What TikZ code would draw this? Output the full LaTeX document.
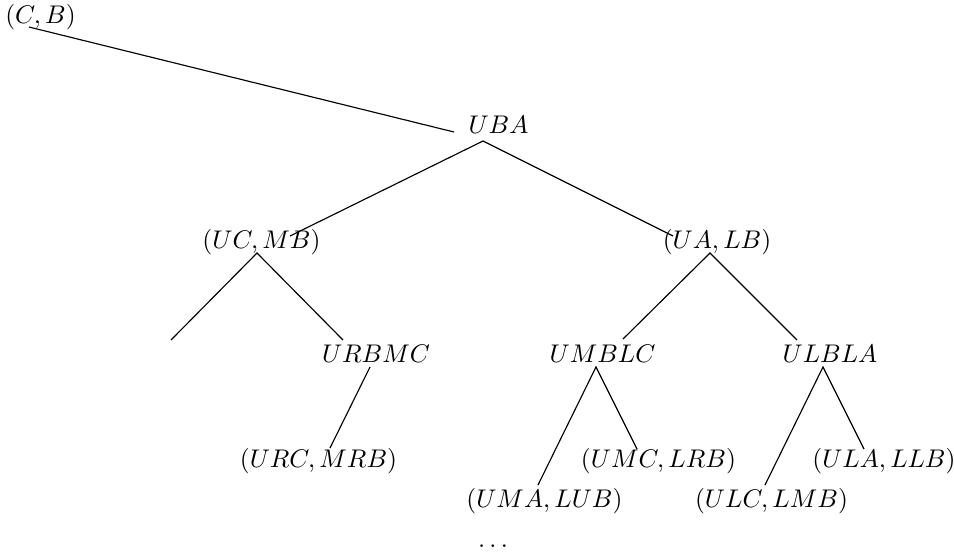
\documentclass[tikz,border=0pt]{standalone}
\begin{document}
\begin{tikzpicture}[x=0.392pt,y=-0.392pt,
  lbl/.style={inner sep=0pt,anchor=base},
  edge/.style={draw=black,line width=0.45pt}]
\useasboundingbox (0,0) rectangle (954,557);
% labels
\node[lbl] (cb)   at (40.5,23)  {$(C,B)$};
\node[lbl] (uba)  at (498.5,133) {$UBA$};
\node[lbl] (ucmb) at (261.5,248) {$(UC,MB)$};
\node[lbl] (ualb) at (717,248)   {$(UA,LB)$};
\node[lbl] (urbmc) at (376,362)  {$URBMC$};
\node[lbl] (umblc) at (602.5,362) {$UMBLC$};
\node[lbl] (ulbla) at (830,362)  {$ULBLA$};
\node[lbl] (urcmrb) at (318.5,467) {$(URC,MRB)$};
\node[lbl] (umclrb) at (658.5,467) {$(UMC,LRB)$};
\node[lbl] (ulallb) at (884,467)  {$(ULA,LLB)$};
\node[lbl] (umalub) at (544.5,507) {$(UMA,LUB)$};
\node[lbl] (ulclmb) at (771.5,507) {$(ULC,LMB)$};
\node[lbl] (dots) at (493,547) {$\ldots$};
% connector end points
\coordinate (cbA) at (29,27);
\coordinate (ubaL) at (454,132);
\coordinate (ubaB) at (483,141);
\coordinate (ucmbR) at (290,236);
\coordinate (ualbL) at (673,236);
\coordinate (ucmbB) at (257,253);
\coordinate (leftfree) at (171,340);
\coordinate (urbmcT) at (343,340);
\coordinate (ualbB) at (710,253);
\coordinate (umblcT) at (623,339);
\coordinate (ulblaT) at (797,340);
\coordinate (urbmcB) at (370,367);
\coordinate (urcmrbT) at (330,448);
\coordinate (umblcB) at (596,367);
\coordinate (umalubT) at (538,485);
\coordinate (umclrbT) at (637,449);
\coordinate (ulblaB) at (823,367);
\coordinate (ulclmbT) at (765,485);
\coordinate (ulallbT) at (864,449);
% connectors
\draw[edge] (cbA) -- (ubaL);
\draw[edge] (ucmbR) -- (ubaB) -- (ualbL);
\draw[edge] (leftfree) -- (ucmbB) -- (urbmcT);
\draw[edge] (umblcT) -- (ualbB) -- (ulblaT);
\draw[edge] (urbmcB) -- (urcmrbT);
\draw[edge] (umalubT) -- (umblcB) -- (umclrbT);
\draw[edge] (ulclmbT) -- (ulblaB) -- (ulallbT);
\end{tikzpicture}
\end{document}
